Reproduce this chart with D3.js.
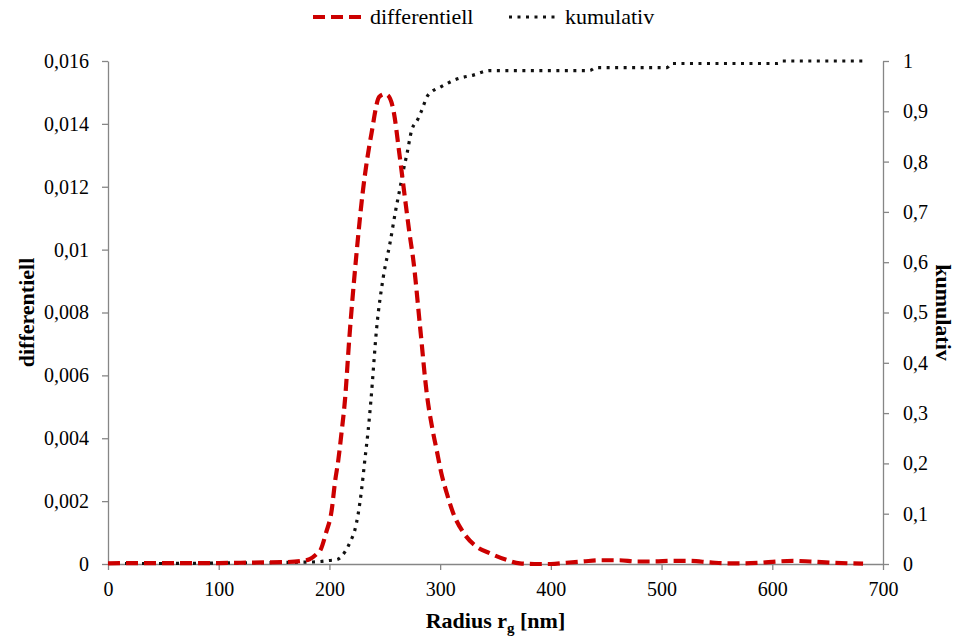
<!DOCTYPE html>
<html>
<head>
<meta charset="utf-8">
<script src="https://cdn.jsdelivr.net/npm/d3@7"></script>
<style>
  body { margin: 0; background: #fff; }
  text { font-family: "Liberation Serif", "Times New Roman", serif; fill: #000; }
</style>
</head>
<body>
<script>
var width = 959;
var height = 639;

// differential distribution (red dashed)
var radiusDiff = [0, 20, 40, 60, 80, 100, 120, 140, 160, 175, 182, 188, 192, 197, 202, 205, 208, 211, 214, 218, 224, 230, 238, 245, 250, 253, 258, 263, 268, 272, 276, 282, 288, 293, 297, 301, 306, 312, 321, 333, 345, 360, 372, 385, 400, 414, 429, 444, 462, 477, 492, 510, 525, 544, 559, 574, 589, 604, 619, 634, 655, 682];
var differentiell = [0.00002, 0.00003, 0.00003, 0.00003, 0.00003, 0.00003, 0.00004, 0.00005, 0.00006, 0.0001, 0.00015, 0.0003, 0.00045, 0.001, 0.0017, 0.0026, 0.0033, 0.0042, 0.0052, 0.0072, 0.0097, 0.0118, 0.0137, 0.01486, 0.01495, 0.0149, 0.0144, 0.0131, 0.0117, 0.0106, 0.0096, 0.0075, 0.0054, 0.0043, 0.0036, 0.0029, 0.00225, 0.0016, 0.001, 0.00055, 0.00034, 0.00013, 0.00002, 0, 0, 0.00004, 0.00008, 0.00012, 0.00012, 0.00008, 0.00008, 0.0001, 0.0001, 0.00005, 0.00002, 0.00002, 0.00004, 0.00008, 0.0001, 0.00008, 0.00004, 0.00001];

// cumulative distribution (black dotted)
var radiusKum = [0, 50, 100, 150, 185, 192, 200, 207, 214, 219, 223, 226, 229, 232, 235, 237.5, 242.7, 248.7, 254.7, 260, 264, 267, 270, 274, 280, 283, 289, 301, 315, 330, 345, 435, 441, 505, 509, 605, 609, 684];
var kumulativ = [0.001, 0.001, 0.002, 0.003, 0.004, 0.005, 0.007, 0.009, 0.024, 0.045, 0.068, 0.1, 0.147, 0.207, 0.266, 0.326, 0.47, 0.571, 0.638, 0.705, 0.75, 0.785, 0.815, 0.86, 0.885, 0.9, 0.932, 0.949, 0.964, 0.972, 0.981, 0.981, 0.987, 0.987, 0.995, 0.995, 1, 1];

// ticks
var xTicks = [0, 100, 200, 300, 400, 500, 600, 700];
var leftTicks = [0, 0.002, 0.004, 0.006, 0.008, 0.01, 0.012, 0.014, 0.016];
var leftTickLabels = ['0', '0,002', '0,004', '0,006', '0,008', '0,01', '0,012', '0,014', '0,016'];
var rightTicks = [0, 0.1, 0.2, 0.3, 0.4, 0.5, 0.6, 0.7, 0.8, 0.9, 1];
var rightTickLabels = ['0', '0,1', '0,2', '0,3', '0,4', '0,5', '0,6', '0,7', '0,8', '0,9', '1'];

var margin = {left: 108, right: 76, top: 61, bottom: 75};

var svg = d3.select('body').append('svg')
  .attr('width', width)
  .attr('height', height);

var x = d3.scaleLinear().domain([0, 700]).range([margin.left, width - margin.right]);
var yL = d3.scaleLinear().domain([0, 0.016]).range([height - margin.bottom, margin.top]);
var yR = d3.scaleLinear().domain([0, 1]).range([height - margin.bottom, margin.top]);

var axisColor = '#868686';

//axes
var gx = svg.append('g')
  .attr('transform', 'translate(0,' + (height - margin.bottom) + ')')
  .call(d3.axisBottom(x).tickValues(xTicks).tickSize(6).tickSizeOuter(0).tickPadding(12));

var gl = svg.append('g')
  .attr('transform', 'translate(' + margin.left + ',0)')
  .call(d3.axisLeft(yL).tickValues(leftTicks).tickSize(6).tickSizeOuter(0).tickPadding(13)
    .tickFormat(function(d, i){ return leftTickLabels[i]; }));

var gr = svg.append('g')
  .attr('transform', 'translate(' + (width - margin.right) + ',0)')
  .call(d3.axisRight(yR).tickValues(rightTicks).tickSize(6).tickSizeOuter(0).tickPadding(14)
    .tickFormat(function(d, i){ return rightTickLabels[i]; }));

[gx, gl, gr].forEach(function(g){
  g.attr('font-family', null);
  g.select('.domain').attr('stroke', axisColor).attr('stroke-width', 1.3);
  g.selectAll('.tick line').attr('stroke', axisColor).attr('stroke-width', 1.3);
  g.selectAll('.tick text')
    .attr('font-size', 20)
    .attr('fill', '#000');
});

//lines
var lineDiff = d3.line()
  .x(function(d){ return x(d[0]); })
  .y(function(d){ return yL(d[1]); })
  .curve(d3.curveMonotoneX);

var lineKum = d3.line()
  .x(function(d){ return x(d[0]); })
  .y(function(d){ return yR(d[1]); })
  .curve(d3.curveMonotoneX);

svg.append('path')
  .datum(d3.zip(radiusKum, kumulativ))
  .attr('fill', 'none')
  .attr('stroke', '#111')
  .attr('stroke-width', 3.2)
  .attr('stroke-dasharray', '3,5.5')
  .attr('d', lineKum);

svg.append('path')
  .datum(d3.zip(radiusDiff, differentiell))
  .attr('fill', 'none')
  .attr('stroke', '#cc0000')
  .attr('stroke-width', 4.2)
  .attr('stroke-dasharray', '12,6')
  .attr('d', lineDiff);

//axis titles
svg.append('text')
  .attr('transform', 'translate(34,' + ((margin.top + height - margin.bottom) / 2) + ') rotate(-90)')
  .attr('text-anchor', 'middle')
  .attr('font-weight', 'bold')
  .attr('font-size', 22)
  .text('differentiell');

svg.append('text')
  .attr('transform', 'translate(936,' + ((margin.top + height - margin.bottom) / 2) + ') rotate(90)')
  .attr('text-anchor', 'middle')
  .attr('font-weight', 'bold')
  .attr('font-size', 22)
  .text('kumulativ');

var xt = svg.append('text')
  .attr('x', (x(0) + x(700)) / 2)
  .attr('y', 628)
  .attr('text-anchor', 'middle')
  .attr('font-weight', 'bold')
  .attr('font-size', 22);
xt.append('tspan').text('Radius r');
xt.append('tspan').attr('dy', 5).attr('font-size', 15).text('g');
xt.append('tspan').attr('dy', -5).text(' [nm]');

//legend
var legend = svg.append('g').attr('transform', 'translate(0,17)');
legend.append('line')
  .attr('x1', 313).attr('x2', 361).attr('y1', 0).attr('y2', 0)
  .attr('stroke', '#cc0000').attr('stroke-width', 4.2).attr('stroke-dasharray', '12,6');
legend.append('text')
  .attr('x', 370).attr('y', 7)
  .attr('font-size', 22)
  .text('differentiell');
legend.append('line')
  .attr('x1', 509).attr('x2', 556).attr('y1', 0).attr('y2', 0)
  .attr('stroke', '#111').attr('stroke-width', 3.2).attr('stroke-dasharray', '3,5.5');
legend.append('text')
  .attr('x', 565).attr('y', 7)
  .attr('font-size', 22)
  .text('kumulativ');
</script>
</body>
</html>
